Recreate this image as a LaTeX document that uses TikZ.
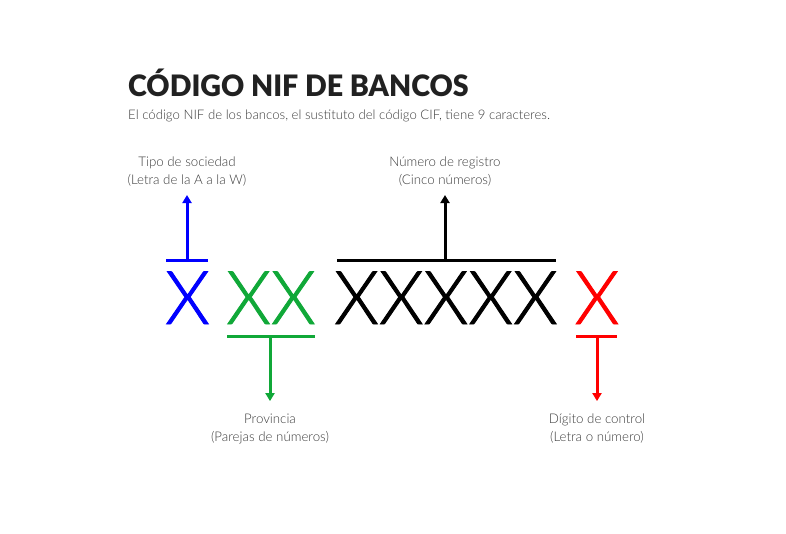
\documentclass[tikz,border=0pt]{standalone}
\usepackage{fontspec}
\setmainfont{Lato}
\newfontfamily\lightfont{Lato Light}
\newfontfamily\heavyfont{Lato Black}
\usepackage{tikz}
\usetikzlibrary{arrows.meta,positioning}
\definecolor{nifblue}{RGB}{0,0,255}
\definecolor{nifgreen}{RGB}{16,168,56}
\definecolor{nifred}{RGB}{255,0,0}
\definecolor{nifgray}{RGB}{60,60,60}

\begin{document}
\begin{tikzpicture}[
    x=1pt, y=-1pt,
    char/.style={inner sep=0pt, anchor=base,
        font=\lightfont\addfontfeature{FakeStretch=0.97,FakeBold=1.2}\fontsize{74}{74}\selectfont},
    info/.style={align=center, inner sep=0pt, text=nifgray,
        font=\lightfont\fontsize{13.3}{18}\selectfont},
    bar/.style={line width=3pt},
    edge/.style={-{Triangle[length=8pt,width=9pt]}, line width=3pt, shorten >=9pt},
    down/.style={shorten >=12.5pt}
]
    \useasboundingbox (0,0) rectangle (786,533);

    \node[anchor=base west, inner sep=0pt, text=black!87,
        font=\heavyfont\addfontfeature{FakeStretch=0.97}\fontsize{29.5}{29.5}\selectfont] (title) at (128,96) {CÓDIGO NIF DE BANCOS};
    \node[anchor=base west, inner sep=0pt, text=nifgray,
        font=\lightfont\fontsize{13.2}{13.2}\selectfont] (subtitle) at (128,119.5)
        {El código NIF de los bancos, el sustituto del código CIF, tiene 9 caracteres.};

    \node[char, text=nifblue] (sociedad) at (187.5,324) {X};
    \node[char, text=nifgreen] (provincia) at (271,324) {XX};
    \node[char, text=black] (registro) at (446,324) {XXXXX};
    \node[char, text=nifred] (control) at (597,324) {X};

    \coordinate (sociedadbar) at (187,260);
    \coordinate (provinciabar) at (270,336);
    \coordinate (registrobar) at (445,260);
    \coordinate (controlbar) at (597,336);

    \draw[bar, nifblue] (166,260) -- (208,260);
    \draw[bar, nifgreen] (227,336) -- (315,336);
    \draw[bar, black] (337,260) -- (556,260);
    \draw[bar, nifred] (576,336) -- (617,336);

    \node[info, above=74pt of sociedadbar] (tipo) {Tipo de sociedad\\(Letra de la A a la W)};
    \node[info, above=74pt of registrobar] (numero) {Número de registro\\(Cinco números)};
    \node[info, below=77.6pt of provinciabar] (parejas) {Provincia\\(Parejas de números)};
    \node[info, below=77.6pt of controlbar] (digito) {Dígito de control\\(Letra o número)};

    \draw[edge, nifblue] (sociedadbar) -- (tipo);
    \draw[edge, black] (registrobar) -- (numero);
    \draw[edge, down, nifgreen] (provinciabar) -- (parejas);
    \draw[edge, down, nifred] (controlbar) -- (digito);
\end{tikzpicture}
\end{document}
